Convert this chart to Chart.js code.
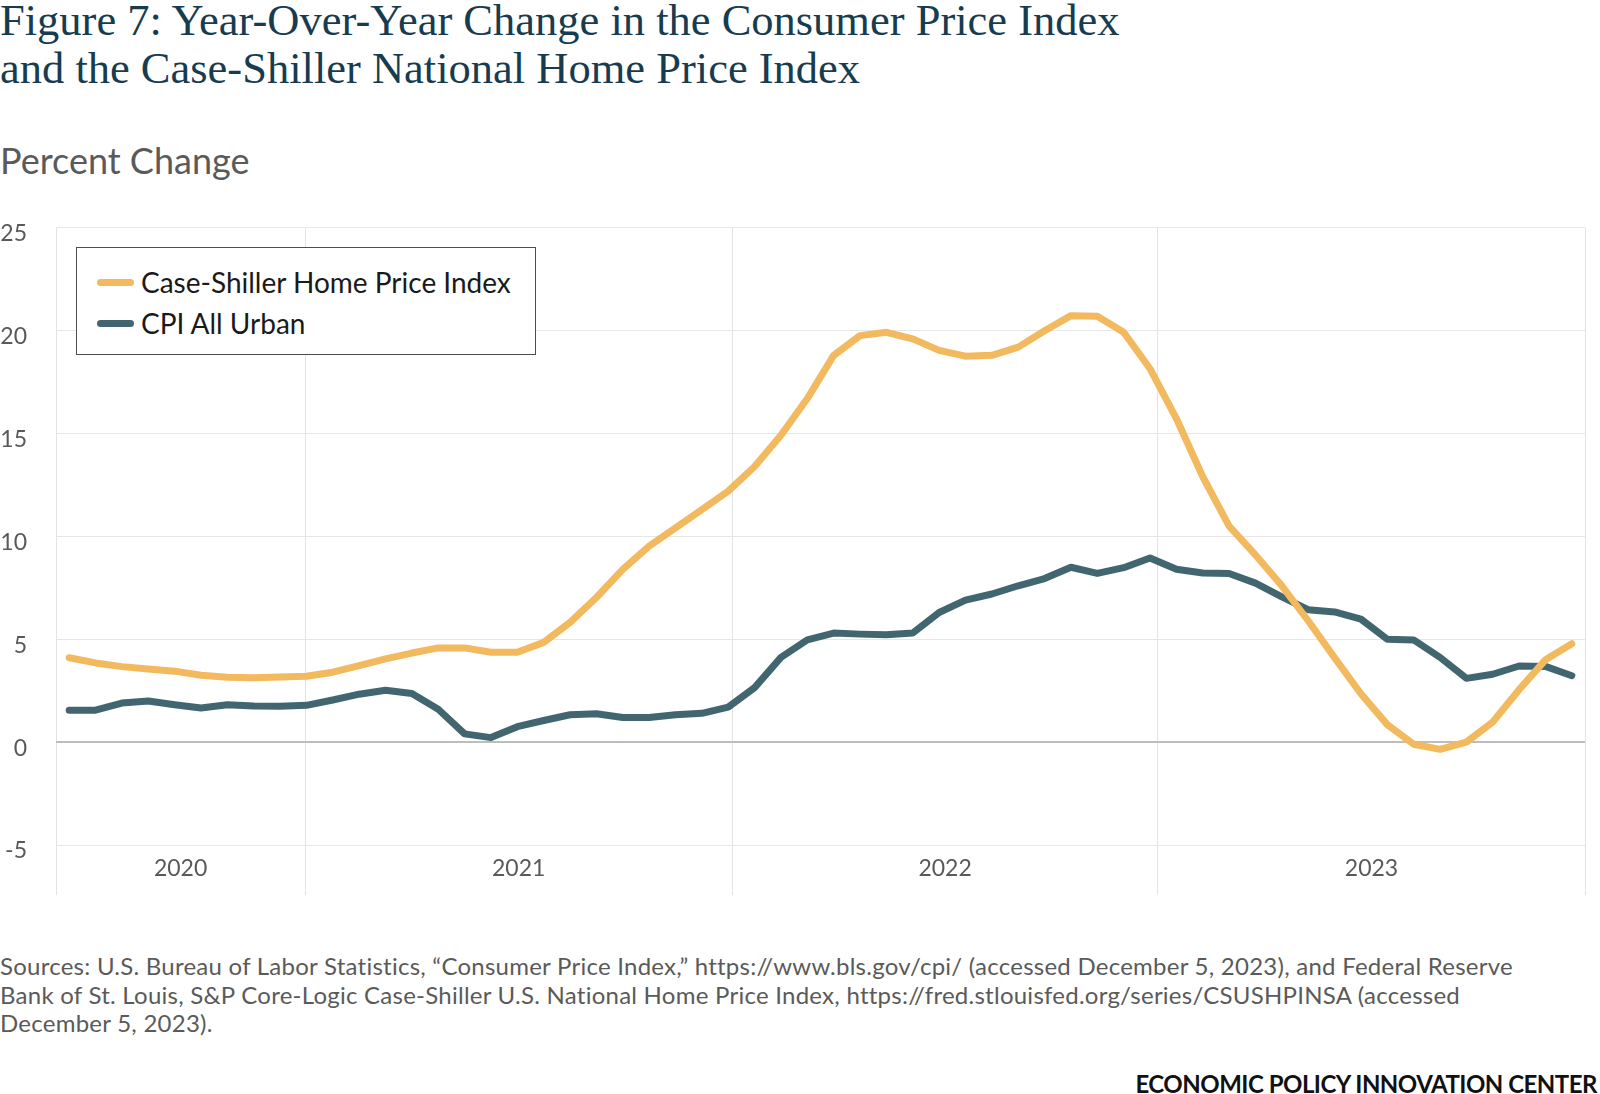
<!DOCTYPE html>
<html>
<head>
<meta charset="utf-8">
<script src="https://cdn.jsdelivr.net/npm/chart.js@4.4.0/dist/chart.umd.min.js"></script>
<style>
  html, body { margin: 0; padding: 0; background: #fff; }
  body { width: 1600px; height: 1094px; position: relative; overflow: hidden; font-family: Lato, sans-serif; }
  #title { position: absolute; left: 0; top: -4px; font-family: 'Liberation Serif', serif; font-size: 44.5px; line-height: 48px; color: #173c50; white-space: nowrap; }
  #ylabel { position: absolute; left: 0; top: 140px; font-size: 36px; line-height: 40px; color: #5a5a5a; }
  #chartBox { position: absolute; left: 0; top: 185px; width: 1600px; height: 735px; }
  #legend { position: absolute; left: 76px; top: 247px; width: 460px; height: 108px; box-sizing: border-box; border: 1px solid #4d4d4d; background: #fff; }
  .item { position: absolute; left: 0; height: 41px; line-height: 41px; font-size: 28px; color: #1a1a1a; white-space: nowrap; }
  .swatch { position: absolute; left: 20px; top: 17px; width: 37px; height: 7px; border-radius: 4px; }
  .item span { position: absolute; left: 64px; }
  #sources { position: absolute; left: 0; top: 952px; font-size: 24px; letter-spacing: 0.25px; line-height: 28.6px; color: #5a5a5a; white-space: nowrap; }
  #footer { position: absolute; right: 3px; top: 1070px; font-size: 24px; line-height: 28px; font-weight: 700; letter-spacing: -0.5px; color: #111; }
</style>
</head>
<body>
<div id="title">Figure 7: Year-Over-Year Change in the Consumer Price Index<br>and the Case-Shiller National Home Price Index</div>
<div id="ylabel">Percent Change</div>
<div id="chartBox"><canvas id="lineChart" width="1600" height="735"></canvas></div>
<div id="legend"></div>
<div id="sources">Sources: U.S. Bureau of Labor Statistics, “Consumer Price Index,” https://www.bls.gov/cpi/ (accessed December 5, 2023), and Federal Reserve<br>Bank of St. Louis, S&amp;P Core-Logic Case-Shiller U.S. National Home Price Index, https://fred.stlouisfed.org/series/CSUSHPINSA (accessed<br>December 5, 2023).</div>
<div id="footer">ECONOMIC POLICY INNOVATION CENTER</div>
<script>
const months = [
  'Jan 2019','Feb 2019','Mar 2019','Apr 2019','May 2019','Jun 2019','Jul 2019','Aug 2019','Sep 2019','Oct 2019','Nov 2019','Dec 2019',
  'Jan 2020','Feb 2020','Mar 2020','Apr 2020','May 2020','Jun 2020','Jul 2020','Aug 2020','Sep 2020','Oct 2020','Nov 2020','Dec 2020',
  'Jan 2021','Feb 2021','Mar 2021','Apr 2021','May 2021','Jun 2021','Jul 2021','Aug 2021','Sep 2021','Oct 2021','Nov 2021','Dec 2021',
  'Jan 2022','Feb 2022','Mar 2022','Apr 2022','May 2022','Jun 2022','Jul 2022','Aug 2022','Sep 2022','Oct 2022','Nov 2022','Dec 2022',
  'Jan 2023','Feb 2023','Mar 2023','Apr 2023','May 2023','Jun 2023','Jul 2023','Aug 2023','Sep 2023','Oct 2023'
];

const caseShiller = [
  4.1, 3.85, 3.67, 3.55, 3.45, 3.25, 3.15, 3.13, 3.16, 3.2, 3.4, 3.72,
  4.05, 4.33, 4.58, 4.58, 4.37, 4.37, 4.85, 5.82, 7.03, 8.4, 9.53, 10.41,
  11.3, 12.2, 13.4, 14.92, 16.7, 18.8, 19.76, 19.92, 19.6, 19.04, 18.76, 18.8,
  19.2, 20.0, 20.73, 20.7, 19.92, 18.15, 15.73, 12.9, 10.5, 9.1, 7.6, 5.9,
  4.1, 2.35, 0.85, -0.1, -0.35, 0.0, 0.98, 2.55, 4.0, 4.78
];

const cpiAllUrban = [
  1.55, 1.55, 1.9, 2.0, 1.82, 1.66, 1.82, 1.76, 1.75, 1.79, 2.05, 2.33,
  2.52, 2.36, 1.6, 0.4, 0.22, 0.75, 1.05, 1.33, 1.38, 1.2, 1.2, 1.33,
  1.4, 1.7, 2.65, 4.12, 4.97, 5.3, 5.25, 5.22, 5.3, 6.3, 6.9, 7.2,
  7.6, 7.95, 8.5, 8.2, 8.48, 8.95, 8.4, 8.22, 8.2, 7.73, 7.06, 6.44,
  6.33, 5.98, 5.0, 4.97, 4.12, 3.1, 3.3, 3.7, 3.68, 3.23
];

const yearLabels = ['2020', '2021', '2022', '2023'];
const yTickValues = [-5, 0, 5, 10, 15, 20, 25];

// where the year separators sit on the month axis in the original figure
const yearEdges = [-0.5, 8.95, 25.15, 41.3, 57.5];

const xTicks = [];
yearEdges.forEach(v => xTicks.push({ value: v, label: '', edge: true }));
yearLabels.forEach((lab, i) => xTicks.push({ value: (yearEdges[i] + yearEdges[i + 1]) / 2, label: lab, edge: false }));
xTicks.sort((a, b) => a.value - b.value);

const series = [
  { label: 'Case-Shiller Home Price Index', values: caseShiller, color: '#F2B95E' },
  { label: 'CPI All Urban', values: cpiAllUrban, color: '#42666F' }
];

// html legend
const legendEl = document.getElementById('legend');
series.forEach((s, i) => {
  const row = document.createElement('div');
  row.className = 'item';
  row.style.top = (14 + i * 41) + 'px';
  row.style.width = '100%';
  row.innerHTML = '<div class="swatch" style="background:' + s.color + '"></div><span>' + s.label + '</span>';
  legendEl.appendChild(row);
});

const tickFont = { family: 'Lato', size: 23 };

const ctx = document.getElementById('lineChart').getContext('2d');
new Chart(ctx, {
  type: 'line',
  data: {
    labels: months,
    datasets: series.map(s => ({
      label: s.label,
      data: s.values.map((v, i) => ({ x: i, y: v })),
      borderColor: s.color,
      backgroundColor: s.color,
      borderWidth: 7,
      pointRadius: 0,
      tension: 0,
      borderJoinStyle: 'round',
      borderCapStyle: 'round',
      fill: false
    }))
  },
  options: {
    responsive: false,
    animation: false,
    devicePixelRatio: 1,
    layout: { padding: { top: 0, right: 15, left: 0, bottom: 0 } },
    plugins: { legend: { display: false }, tooltip: { enabled: false } },
    scales: {
      x: {
        type: 'linear',
        min: -0.5,
        max: 57.5,
        afterBuildTicks: (scale) => { scale.ticks = xTicks.map(t => ({ value: t.value })); },
        afterFit: (scale) => { scale.height = 75; },
        border: { display: false },
        grid: {
          color: (c) => (xTicks[c.index] && xTicks[c.index].edge) ? '#e3e3e3' : 'rgba(0,0,0,0)',
          lineWidth: 1,
          tickLength: 50
        },
        ticks: {
          autoSkip: false,
          maxRotation: 0,
          padding: -40,
          color: '#595959',
          font: tickFont,
          callback: (value, index) => xTicks[index] ? xTicks[index].label : ''
        }
      },
      y: {
        min: -5,
        max: 25,
        afterBuildTicks: (scale) => { scale.ticks = yTickValues.map(v => ({ value: v })); },
        afterFit: (scale) => { scale.width = 56; },
        border: { display: false },
        grid: {
          color: (c) => c.tick && c.tick.value === 0 ? '#bdbdbd' : '#e6e6e6',
          lineWidth: (c) => c.tick && c.tick.value === 0 ? 2 : 1,
          drawTicks: false
        },
        ticks: {
          padding: 29,
          labelOffset: 6,
          color: '#595959',
          font: tickFont
        }
      }
    }
  }
});
</script>
</body>
</html>
